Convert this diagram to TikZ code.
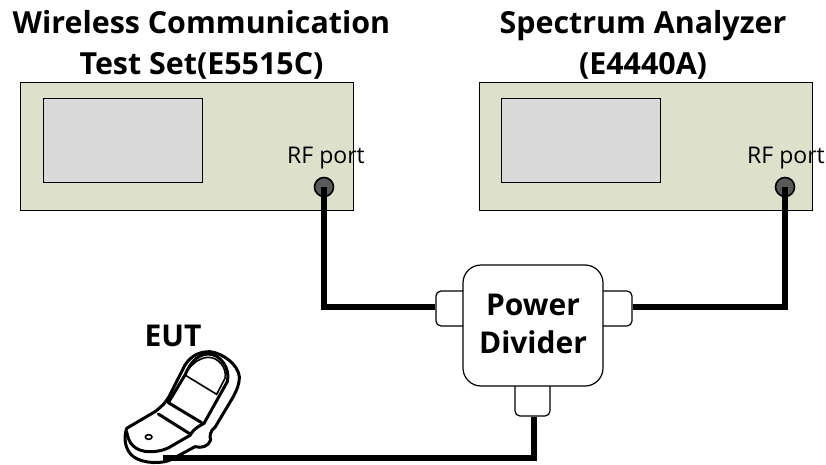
\documentclass[tikz,border=0pt]{standalone}
\usepackage{fontspec}
\setmainfont{Open Sans}
\definecolor{boxgreen}{RGB}{221,225,203}
\definecolor{screengray}{RGB}{217,217,217}
\definecolor{portgray}{RGB}{89,89,89}
\tikzset{
  panel/.style={draw=black, line width=0.8pt, fill=boxgreen, minimum width=333pt, minimum height=128pt, inner sep=0pt},
  screen/.style={draw=black, line width=0.8pt, fill=screengray, minimum width=159pt, minimum height=84pt, inner sep=0pt},
  port/.style={circle, draw=black, line width=1.6pt, fill=portgray, minimum size=19pt, inner sep=0pt},
  portlabel/.style={font=\fontsize{23}{27}\selectfont},
  stub/.style={draw=black, line width=1.2pt, fill=white, rounded corners=5pt, inner sep=0pt},
  cable/.style={line width=6pt, line join=miter},
  title/.style={font=\bfseries\fontsize{30.4}{41}\selectfont, align=center},
  phone/.style={line width=3pt, line join=round, line cap=round}
}
\begin{document}
\begin{tikzpicture}[x=1pt,y=-1pt]
\useasboundingbox (0,0) rectangle (826,465);

\node [panel] (testset) at (186.5,146) {};
\node [panel] (analyzer) at (646,146) {};
\node [screen] (testscreen) at (122.5,140) {};
\node [screen] (anascreen) at (581,140) {};
\node [portlabel] (testlabel) at (326,158) {RF port};
\node [portlabel] (analabel) at (786,158) {RF port};
\node [port] (testport) at (324,187) {};
\node [port] (anaport) at (785,187) {};

\node [title] (testtitle) at (201.5,45) {Wireless Communication\\Test Set(E5515C)};
\node [title] (anatitle) at (643,45) {Spectrum Analyzer\\(E4440A)};

% power divider
\node [stub, minimum width=40pt, minimum height=35pt] (stubleft) at (456,308.5) {};
\node [stub, minimum width=40pt, minimum height=35pt] (stubright) at (612,308.5) {};
\node [stub, minimum width=35pt, minimum height=44pt] (stubbottom) at (532.5,394) {};
\node [draw=black, line width=1.2pt, fill=white, rounded corners=18pt, minimum width=140pt, minimum height=121pt] (divider) at (533,325.5) {};
\node [font=\bfseries\fontsize{30}{38}\selectfont, align=center] (dividerlabel) at (533,323.5) {Power\\Divider};

\node [font=\bfseries\fontsize{30}{36}\selectfont] (eutlabel) at (173,336) {EUT};

% phone
\begin{scope}[shift={(100,340)},scale=1/3]
\draw [phone, fill=white] (80,265) -- (165,215) .. controls (190,195) and (200,185) .. (212,160)
  -- (255,75) .. controls (275,45) and (300,35) .. (330,35)
  .. controls (370,40) and (415,75) .. (418,110)
  .. controls (418,135) and (410,150) .. (400,170)
  -- (345,262) .. controls (330,272) and (328,290) .. (332,300)
  .. controls (325,320) and (305,325) .. (285,320)
  -- (215,358) .. controls (190,372) and (130,372) .. (100,350)
  .. controls (75,330) and (70,295) .. (80,265) -- cycle;
\draw [phone] (80,275) .. controls (85,310) and (105,335) .. (150,335)
  .. controls (185,335) and (205,325) .. (225,312) -- (272,285);
\draw [phone] (175,222) -- (272,283) .. controls (285,262) and (300,258) .. (312,250)
  -- (382,125) .. controls (392,85) and (360,40) .. (322,42)
  .. controls (290,45) and (270,70) .. (255,105) -- (205,188);
\draw [line width=1.6pt] (255,105) -- (350,163) -- (375,115) .. controls (382,85) and (355,50) .. (322,52)
  .. controls (295,55) and (270,75) .. (255,105);
\draw [phone] (205,188) -- (305,248);
\draw [line width=1.6pt] (146,291) ellipse (10 and 7);
\coordinate (phonejack) at (190,355);
\end{scope}

% cables
\draw [cable] (testport.center) |- ([yshift=1.5pt]stubleft.west);
\draw [cable] (anaport.center) |- ([yshift=1.5pt]stubright.east);
\draw [cable] (stubbottom.south) ++(1.5,0) |- (phonejack);
\end{tikzpicture}
\end{document}
